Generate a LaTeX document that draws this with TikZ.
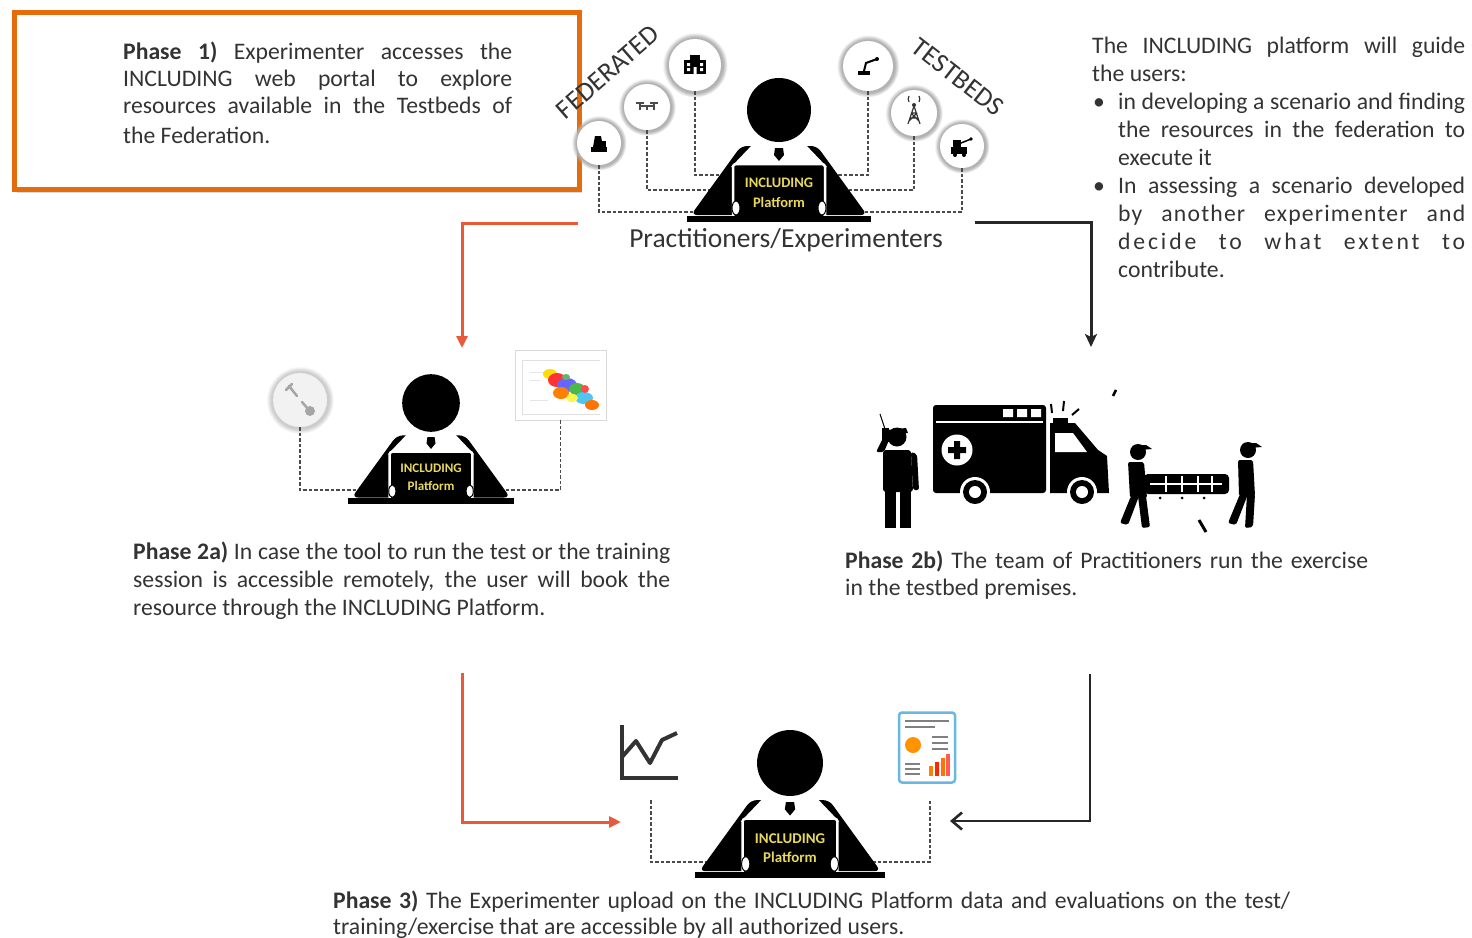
\documentclass[tikz,border=0pt]{standalone}
\usepackage{fontspec}
\setmainfont{Carlito}
\usetikzlibrary{arrows.meta,shadows,calc}

\definecolor{ink}{HTML}{333333}
\definecolor{boxorange}{HTML}{E46C0A}
\definecolor{flowred}{HTML}{E85A3C}
\definecolor{lapyellow}{HTML}{E8D85C}
\definecolor{dashgray}{HTML}{4A4A4A}
\definecolor{reportblue}{HTML}{6BB7E3}

% one justified line of a given width (in pt)
\newcommand\jline[2]{\makebox[#1pt][s]{#2}}
\newcommand\bul{\makebox[26pt][l]{\hspace*{1pt}\textbullet}}
\newcommand\ind{\hspace*{26pt}}

\tikzset{
  % paragraphs are anchored at the baseline of their last line
  para/.style={anchor=base west, inner sep=0pt, align=left, text=ink,
    font=\fontsize{23.7}{28}\selectfont},
  dashconn/.style={draw=dashgray, line width=1.6pt, dash pattern=on 3.5pt off 2pt},
  redflow/.style={draw=flowred, line width=3pt, -{Triangle[length=12pt,width=11pt]}},
  blackflow/.style={draw=black!85, line width=3pt, -{Stealth[length=13pt,width=12pt,inset=3pt]}},
  openflow/.style={draw=black!85, line width=2.6pt, -{Straight Barb[length=10pt,width=17pt]}},
  res/.style={circle, fill=white, minimum size=#1, inner sep=0pt,
    circular glow={fill=black!30}},
  laptext/.style={inner sep=0pt, text=lapyellow, font=\fontsize{14.5}{15}\selectfont\bfseries},
  pics/person/.style={code={
    \fill[rounded corners=6pt] (-38,36) -- (38,36) -- (88,105) -- (-88,105) -- cycle;
    \fill[white] (-25,33) -- (25,33) -- (48,57) -- (-48,57) -- cycle;
    \fill (0,0) circle (32);
    \fill (-4,38) -- (4,38) -- (5,45) -- (0,51) -- (-5,45) -- cycle;
    \filldraw[draw=white, line width=2.5pt, rounded corners=3pt] (-46,54) rectangle (46,108);
    \filldraw[fill=white, draw=black, line width=1pt] (-43,98) ellipse (4 and 7) (43,98) ellipse (4 and 7);
    \fill (-92,106) rectangle (92,112);
    \node[laptext] (-brand) at (0,73) {INCLUDING};
    \node[laptext] (-name) at (0,92) {Platform};
  }},
}

\begin{document}
\begin{tikzpicture}[x=1pt,y=-1pt]
\useasboundingbox (0,0) rectangle (1472,937);

% ---------- Phase 1 box ----------
\node[draw=boxorange, line width=5pt, fill=white, minimum width=565pt, minimum height=177pt,
  anchor=north west, drop shadow={shadow xshift=2pt, shadow yshift=-3pt, opacity=0.3}] (box1) at (12,10) {};
\node[para, font=\fontsize{23.7}{27}\selectfont] (p1) at (123,143)
  {\jline{389}{\textbf{Phase 1)} Experimenter accesses the}\\
   \jline{389}{INCLUDING web portal to explore}\\
   \jline{389}{resources available in the Testbeds of}\\[3pt]
   the Federation.};

% ---------- guidance text ----------
\node[para] (guide) at (1092,277)
  {\jline{373}{The INCLUDING platform will guide}\\
   the users:\\
   \bul\jline{347}{in developing a scenario and finding}\\
   \ind\jline{347}{the resources in the federation to}\\
   \ind execute it\\
   \bul\jline{347}{In assessing a scenario developed}\\
   \ind\jline{347}{\addfontfeature{LetterSpace=5}by another experimenter and}\\
   \ind\jline{347}{\addfontfeature{LetterSpace=12}decide to what extent to}\\
   \ind contribute.};

% ---------- top: federated testbeds ----------
\node[rotate=41, inner sep=0pt, text=ink, font=\fontsize{27}{27}\selectfont] (fed) at (608,72) {FEDERATED};
\node[rotate=-38, inner sep=0pt, text=ink, font=\fontsize{27}{27}\selectfont] (tb) at (958,77) {TESTBEDS};

\coordinate (t1) at (705,212);
\coordinate (t2) at (735,190);
\coordinate (t3) at (750,175);
\coordinate (t4) at (810,175);
\coordinate (t5) at (825,190);
\coordinate (t6) at (855,212);

\node[res=44pt] (r1) at (599,143) {};
\node[res=46pt] (r2) at (647,107) {};
\node[res=52pt] (r3) at (695,65) {};
\node[res=50pt] (r4) at (868,66) {};
\node[res=46pt] (r5) at (914,113) {};
\node[res=44pt] (r6) at (962,146) {};

\draw[dashconn] (r1) |- (t1);
\draw[dashconn] (r2) |- (t2);
\draw[dashconn] (r3) |- (t3);
\draw[dashconn] (r4) |- (t4);
\draw[dashconn] (r5) |- (t5);
\draw[dashconn] (r6) |- (t6);

% glyphs inside the resource circles
\begin{scope}[shift={(599,143)}]
  \fill (-8,9) rectangle (8,4);
  \fill (-6,4) -- (-4,-7) -- (2,-7) -- (4,4) -- cycle;
  \fill (3,4) rectangle (7,-2);
\end{scope}
\begin{scope}[shift={(647,107)}, black!70, line width=1.2pt]
  \draw (-8,-1) -- (8,-1);
  \draw (-7,-4) -- (-7,3) (0,-1) -- (0,3) (7,-4) -- (7,3);
  \draw (-11,-4) -- (-3,-4) (3,-4) -- (11,-4);
\end{scope}
\begin{scope}[shift={(695,65)}]
  \fill (-11,-5) rectangle (11,9);
  \fill (-5,-10) rectangle (5,-5);
  \fill[white] (-8,-2) rectangle (-5,1) (5,-2) rectangle (8,1) (-8,3) rectangle (-5,6) (5,3) rectangle (8,6) (-1.5,2) rectangle (1.5,9);
\end{scope}
\begin{scope}[shift={(868,66)}]
  \fill (-10,5) rectangle (2,9);
  \draw[line width=2pt] (-4,5) -- (-2,-3) -- (9,-7);
  \fill (9,-7) circle (2);
\end{scope}
\begin{scope}[shift={(914,113)}, line width=1.2pt, black!80]
  \draw (0,-7) -- (-6,11) (0,-7) -- (6,11) (-4,5) -- (4,5) (-3,0) -- (3,0) (-5,8) -- (3,0) (5,8) -- (-3,0);
  \draw (-5,-11) arc (150:210:6) (5,-11) arc (30:-30:6);
  \fill (0,-8) circle (2);
\end{scope}
\begin{scope}[shift={(962,146)}]
  \fill (-9,-6) rectangle (-1,1);
  \fill (-11,1) rectangle (5,8);
  \draw[line width=1.5pt] (-1,-3) -- (9,-7);
  \fill (9,-7) circle (1.8);
  \fill (-7,9) circle (2) (2,9) circle (2);
\end{scope}

\pic (top) at (779,110) {person};
\node[inner sep=0pt, text=ink, font=\fontsize{27.5}{27.5}\selectfont] (pract) at (786,240) {Practitioners/Experimenters};

% ---------- flow arrows ----------
\coordinate (a1s) at (578,223); \coordinate (a1e) at (462,348);
\draw[redflow] (a1s) -| (a1e);
\coordinate (a2s) at (975,222); \coordinate (a2e) at (1091,347);
\draw[blackflow] (a2s) -| (a2e);
\coordinate (a3s) at (462,673); \coordinate (a3e) at (621,822);
\draw[redflow] (a3s) |- (a3e);
\coordinate (a4s) at (1090,674); \coordinate (a4e) at (950,821);
\draw[openflow] (a4s) |- (a4e);

% ---------- Phase 2a: remote booking ----------
\node[circle, minimum size=54pt, inner sep=0pt, fill=black!5, draw=black!10, circular glow={fill=black!20}] (w1) at (300,400) {};
\begin{scope}[shift={(300,400)}, black!35, line width=2.5pt, line cap=round]
  \draw (-11,-14) -- (-3,-4);
  \draw (-14,-10) -- (-8,-16);
  \draw (2,2) -- (8,9);
  \fill (10,11) circle (5);
\end{scope}
\node[rectangle, minimum width=91pt, minimum height=70pt, inner sep=0pt, fill=white, draw=black!15, line width=0.8pt] (m1) at (560.5,385) {};
\begin{scope}
  \draw[black!12, line width=0.6pt] (522,360) -- (600,360) (522,360) -- (522,414) -- (600,414);
  \draw[black!10, line width=0.5pt] (530,372) -- (545,372) (530,380) -- (540,380) (530,400) -- (548,400);
  \fill[yellow!80!orange] (550,374) ellipse (7 and 5);
  \fill[red!80] (557,380) ellipse (9 and 7);
  \fill[blue!60] (567,385) ellipse (10 and 7);
  \fill[orange] (561,393) ellipse (8 and 6);
  \fill[green!60!black!70] (577,389) ellipse (8 and 6);
  \fill[cyan!70] (584,398) ellipse (9 and 6);
  \fill[orange!90!red] (592,405) ellipse (7 and 5);
  \fill[yellow!70] (572,398) ellipse (6 and 4);
  \fill[red!70] (585,389) ellipse (4 and 4);
  \fill[green!50!black!60] (566,377) ellipse (4 and 3);
\end{scope}
\coordinate (t7) at (370,490);
\coordinate (t8) at (495,490);
\draw[dashconn] (w1) |- (t7);
\draw[dashconn] (m1) |- (t8);

\pic[scale=0.9, transform shape] (left) at (431,403) {person};

\node[para] (p2a) at (133,615)
  {\jline{537}{\textbf{Phase 2a)} In case the tool to run the test or the training}\\
   \jline{537}{session is accessible remotely, the user will book the}\\
   resource through the INCLUDING Platform.};

% ---------- Phase 2b: exercise on site ----------
% first responder with radio
\fill (897,437) circle (9.5);
\fill (887,430) -- (906,428) -- (908,433) -- (887,434) -- cycle;
\draw[line width=1pt] (886,432) -- (880,414);
\fill (882,428) rectangle (889,442);
\fill[rounded corners=3pt] (883,450) -- (911,450) -- (913,492) -- (883,492) -- cycle;
\fill[rounded corners=2pt] (876,452) -- (884,452) -- (889,440) -- (884,436) -- cycle;
\fill[rounded corners=2pt] (911,452) -- (917,454) -- (919,490) -- (913,490) -- cycle;
\fill (885,490) rectangle (896,528);
\fill (900,490) rectangle (911,528);
% ambulance
\fill[rounded corners=3pt] (933,405) rectangle (1046,493);
\draw[white, line width=2pt] (936,422) -- (1043,422);
\fill[white] (1003,409) rectangle (1013,417) (1017,409) rectangle (1027,417) (1031,409) rectangle (1041,417);
\fill[white] (957,450) circle (15.5);
\fill (954,441) rectangle (960,459) (948,447) rectangle (966,453);
\fill (1050,423) -- (1075,423) -- (1098,450) -- (1107,456) -- (1109,493) -- (1050,493) -- cycle;
\fill[white] (1055,433) -- (1073,433) -- (1087,452) -- (1055,452) -- cycle;
\fill (1053,418) rectangle (1068,425);
\draw[line width=2pt] (1052,413) -- (1051,404) (1063,411) -- (1064,401) (1072,415) -- (1079,409);
\foreach \wx in {975,1082} {
  \fill[white] (\wx,492) circle (15);
  \fill (\wx,492) circle (12);
  \fill[white] (\wx,492) circle (6);
}
\draw[line width=2.5pt] (1113,396) -- (1116,390);
% stretcher bearers
\fill (1138,452) circle (8);
\fill (1132,446) -- (1146,445) -- (1152,449) -- (1140,450) -- cycle;
\fill[rounded corners=2pt] (1128,462) -- (1144,462) -- (1147,498) -- (1130,498) -- cycle;
\fill[rounded corners=2pt] (1131,496) -- (1139,496) -- (1128,525) -- (1120,523) -- cycle;
\fill[rounded corners=2pt] (1138,496) -- (1146,496) -- (1150,527) -- (1142,528) -- cycle;
\fill (1248,450) circle (8);
\fill (1242,444) -- (1256,443) -- (1262,447) -- (1250,448) -- cycle;
\fill[rounded corners=2pt] (1238,460) -- (1253,460) -- (1255,496) -- (1239,496) -- cycle;
\fill[rounded corners=2pt] (1240,494) -- (1248,494) -- (1236,525) -- (1228,523) -- cycle;
\fill[rounded corners=2pt] (1247,494) -- (1255,494) -- (1253,527) -- (1245,528) -- cycle;
\fill[rounded corners=4pt] (1144,474) rectangle (1229,494);
\draw[white, line width=1.2pt] (1166,476) -- (1166,492) (1182,476) -- (1182,492) (1198,476) -- (1198,492) (1212,476) -- (1212,492) (1150,484) -- (1222,484);
\fill (1160,498) circle (1.5) (1182,498) circle (1.5) (1204,498) circle (1.5);
\draw[line width=3pt] (1199,520) -- (1206,532);

\node[para, font=\fontsize{23.7}{27}\selectfont] (p2b) at (845,595)
  {\jline{523}{\textbf{Phase 2b)} The team of Practitioners run the exercise}\\
   in the testbed premises.};

% ---------- Phase 3: upload of results ----------
\node[rectangle, minimum width=62pt, minimum height=62pt, inner sep=0pt] (c1) at (649,752) {};
\draw[ink, line width=4pt] (622,725) -- (622,778) -- (678,778);
\draw[ink, line width=4pt, line join=round] (622,757) -- (636,741) -- (650,763) -- (662,740) -- (677,733);
\node[rectangle, rounded corners=3pt, minimum width=56pt, minimum height=70pt, inner sep=0pt, fill=white, draw=reportblue, line width=2.5pt] (rep) at (927,747.5) {};
\begin{scope}
  \draw[black!50, line width=1.2pt] (905,721) -- (949,721) (905,727) -- (935,727);
  \fill[orange!85!yellow] (913,745) circle (8);
  \draw[black!50, line width=1.2pt] (932,737) -- (948,737) (932,743) -- (948,743) (932,749) -- (948,749);
  \draw[black!50, line width=1.2pt] (905,764) -- (920,764) (905,769) -- (920,769) (905,774) -- (920,774);
  \fill[orange] (929,766) rectangle (933,776);
  \fill[red!70!orange] (935,762) rectangle (939,776);
  \fill[orange!90!red] (941,758) rectangle (945,776);
  \fill[red!65] (946,754) rectangle (950,776);
\end{scope}
\coordinate (t9) at (740,862);
\coordinate (t10) at (840,862);
\draw[dashconn] ($(c1.south)+(2,17)$) |- (t9);
\draw[dashconn] ($(rep.south)+(3,17)$) |- (t10);

\pic[scale=1.03, transform shape] (bot) at (790,763) {person};

\node[para, font=\fontsize{23.7}{26}\selectfont] (p3) at (333,934)
  {\jline{957}{\textbf{Phase 3)} The Experimenter upload on the INCLUDING Platform data and evaluations on the test/}\\
   training/exercise that are accessible by all authorized users.};

\end{tikzpicture}
\end{document}
